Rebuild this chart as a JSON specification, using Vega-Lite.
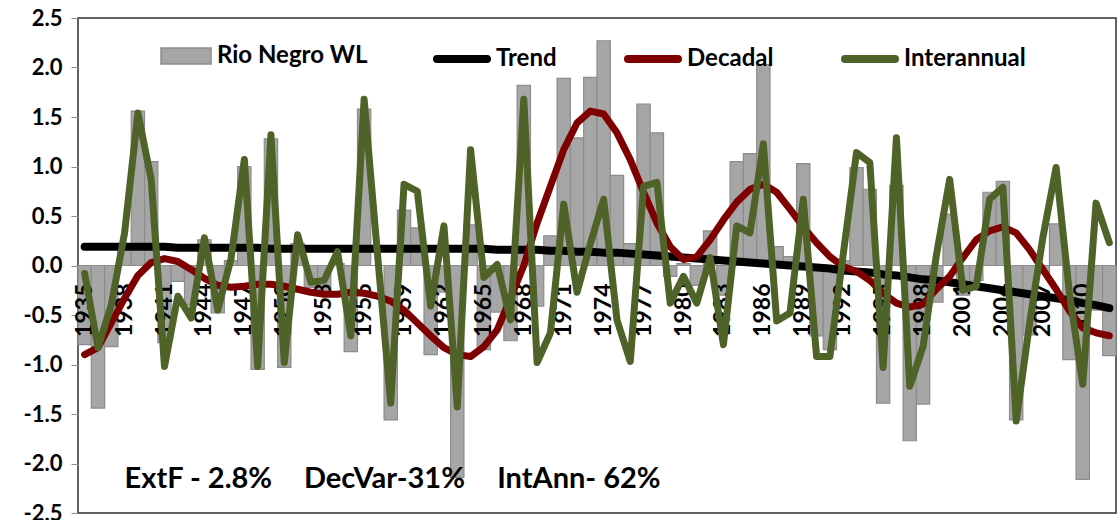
{
  "$schema": "https://vega.github.io/schema/vega-lite/v6.json",
  "width": 1038,
  "height": 495,
  "autosize": {"type": "none"},
  "padding": {"left": 78, "top": 18, "right": 2, "bottom": 7},
  "background": "#ffffff",
  "config": {
    "font": "Lato",
    "view": {"stroke": "#2e2e2e", "strokeWidth": 1.5},
    "axis": {"labelFont": "Lato", "labelFontWeight": "bold", "labelColor": "#000000", "grid": false, "title": null},
    "legend": {
      "orient": "none",
      "direction": "horizontal",
      "padding": 0,
      "symbolSize": 2500,
      "labelFont": "Lato",
      "labelFontWeight": "bold",
      "labelFontSize": 24,
      "labelColor": "#000000",
      "labelLimit": 400,
      "symbolOpacity": 1
    }
  },
  "data": {
    "values": [
      {"year": 1935, "wl": -0.80, "trend": 0.19, "dec": -0.90, "inter": -0.08},
      {"year": 1936, "wl": -1.44, "trend": 0.19, "dec": -0.83, "inter": -0.83},
      {"year": 1937, "wl": -0.82, "trend": 0.19, "dec": -0.58, "inter": -0.40},
      {"year": 1938, "wl": 0.18, "trend": 0.19, "dec": -0.33, "inter": 0.33},
      {"year": 1939, "wl": 1.56, "trend": 0.19, "dec": -0.10, "inter": 1.54},
      {"year": 1940, "wl": 1.05, "trend": 0.19, "dec": 0.03, "inter": 0.87},
      {"year": 1941, "wl": -0.78, "trend": 0.19, "dec": 0.07, "inter": -1.02},
      {"year": 1942, "wl": -0.16, "trend": 0.18, "dec": 0.04, "inter": -0.31},
      {"year": 1943, "wl": -0.40, "trend": 0.18, "dec": -0.04, "inter": -0.53},
      {"year": 1944, "wl": 0.26, "trend": 0.18, "dec": -0.13, "inter": 0.28},
      {"year": 1945, "wl": -0.48, "trend": 0.18, "dec": -0.20, "inter": -0.45},
      {"year": 1946, "wl": 0.05, "trend": 0.18, "dec": -0.22, "inter": 0.07},
      {"year": 1947, "wl": 1.00, "trend": 0.18, "dec": -0.21, "inter": 1.07},
      {"year": 1948, "wl": -1.05, "trend": 0.18, "dec": -0.19, "inter": -1.02},
      {"year": 1949, "wl": 1.28, "trend": 0.17, "dec": -0.19, "inter": 1.32},
      {"year": 1950, "wl": -1.03, "trend": 0.17, "dec": -0.21, "inter": -0.98},
      {"year": 1951, "wl": 0.22, "trend": 0.17, "dec": -0.24, "inter": 0.31},
      {"year": 1952, "wl": -0.22, "trend": 0.17, "dec": -0.27, "inter": -0.17},
      {"year": 1953, "wl": -0.25, "trend": 0.17, "dec": -0.29, "inter": -0.15},
      {"year": 1954, "wl": 0.02, "trend": 0.17, "dec": -0.29, "inter": 0.14},
      {"year": 1955, "wl": -0.87, "trend": 0.17, "dec": -0.27, "inter": -0.71},
      {"year": 1956, "wl": 1.58, "trend": 0.17, "dec": -0.28, "inter": 1.68},
      {"year": 1957, "wl": 0.00, "trend": 0.17, "dec": -0.31, "inter": 0.12},
      {"year": 1958, "wl": -1.56, "trend": 0.17, "dec": -0.36, "inter": -1.39},
      {"year": 1959, "wl": 0.56, "trend": 0.17, "dec": -0.45, "inter": 0.82},
      {"year": 1960, "wl": 0.38, "trend": 0.17, "dec": -0.58, "inter": 0.75},
      {"year": 1961, "wl": -0.90, "trend": 0.17, "dec": -0.71, "inter": -0.41},
      {"year": 1962, "wl": -0.27, "trend": 0.17, "dec": -0.83, "inter": 0.40},
      {"year": 1963, "wl": -2.14, "trend": 0.17, "dec": -0.90, "inter": -1.43},
      {"year": 1964, "wl": 0.41, "trend": 0.17, "dec": -0.92, "inter": 1.17},
      {"year": 1965, "wl": -0.85, "trend": 0.17, "dec": -0.82, "inter": -0.12},
      {"year": 1966, "wl": -0.47, "trend": 0.16, "dec": -0.65, "inter": 0.01},
      {"year": 1967, "wl": -0.76, "trend": 0.16, "dec": -0.33, "inter": -0.55},
      {"year": 1968, "wl": 1.82, "trend": 0.16, "dec": 0.00, "inter": 1.68},
      {"year": 1969, "wl": -0.41, "trend": 0.16, "dec": 0.43, "inter": -0.98},
      {"year": 1970, "wl": 0.30, "trend": 0.15, "dec": 0.80, "inter": -0.68},
      {"year": 1971, "wl": 1.89, "trend": 0.15, "dec": 1.17, "inter": 0.62},
      {"year": 1972, "wl": 1.29, "trend": 0.14, "dec": 1.44, "inter": -0.27},
      {"year": 1973, "wl": 1.90, "trend": 0.14, "dec": 1.56, "inter": 0.22},
      {"year": 1974, "wl": 2.27, "trend": 0.13, "dec": 1.53, "inter": 0.67},
      {"year": 1975, "wl": 0.91, "trend": 0.13, "dec": 1.34, "inter": -0.55},
      {"year": 1976, "wl": 0.22, "trend": 0.12, "dec": 1.07, "inter": -0.97},
      {"year": 1977, "wl": 1.63, "trend": 0.11, "dec": 0.74, "inter": 0.80},
      {"year": 1978, "wl": 1.34, "trend": 0.10, "dec": 0.43, "inter": 0.84},
      {"year": 1979, "wl": -0.11, "trend": 0.09, "dec": 0.19, "inter": -0.38},
      {"year": 1980, "wl": 0.02, "trend": 0.08, "dec": 0.06, "inter": -0.11},
      {"year": 1981, "wl": -0.20, "trend": 0.07, "dec": 0.09, "inter": -0.38},
      {"year": 1982, "wl": 0.35, "trend": 0.06, "dec": 0.26, "inter": 0.08},
      {"year": 1983, "wl": -0.30, "trend": 0.05, "dec": 0.46, "inter": -0.80},
      {"year": 1984, "wl": 1.05, "trend": 0.04, "dec": 0.64, "inter": 0.40},
      {"year": 1985, "wl": 1.13, "trend": 0.03, "dec": 0.77, "inter": 0.33},
      {"year": 1986, "wl": 2.03, "trend": 0.02, "dec": 0.82, "inter": 1.23},
      {"year": 1987, "wl": 0.19, "trend": 0.01, "dec": 0.74, "inter": -0.56},
      {"year": 1988, "wl": 0.09, "trend": 0.00, "dec": 0.57, "inter": -0.48},
      {"year": 1989, "wl": 1.03, "trend": -0.01, "dec": 0.39, "inter": 0.67},
      {"year": 1990, "wl": -0.71, "trend": -0.02, "dec": 0.23, "inter": -0.92},
      {"year": 1991, "wl": -0.85, "trend": -0.03, "dec": 0.09, "inter": -0.92},
      {"year": 1992, "wl": 0.05, "trend": -0.05, "dec": -0.01, "inter": 0.11},
      {"year": 1993, "wl": 0.99, "trend": -0.06, "dec": -0.06, "inter": 1.14},
      {"year": 1994, "wl": 0.77, "trend": -0.07, "dec": -0.15, "inter": 1.04},
      {"year": 1995, "wl": -1.39, "trend": -0.09, "dec": -0.28, "inter": -1.03},
      {"year": 1996, "wl": 0.81, "trend": -0.10, "dec": -0.38, "inter": 1.29},
      {"year": 1997, "wl": -1.77, "trend": -0.12, "dec": -0.42, "inter": -1.22},
      {"year": 1998, "wl": -1.40, "trend": -0.14, "dec": -0.39, "inter": -0.82},
      {"year": 1999, "wl": -0.37, "trend": -0.15, "dec": -0.24, "inter": 0.10},
      {"year": 2000, "wl": 0.52, "trend": -0.17, "dec": -0.11, "inter": 0.87},
      {"year": 2001, "wl": -0.30, "trend": -0.19, "dec": 0.08, "inter": -0.25},
      {"year": 2002, "wl": -0.15, "trend": -0.21, "dec": 0.26, "inter": -0.21},
      {"year": 2003, "wl": 0.74, "trend": -0.23, "dec": 0.35, "inter": 0.67},
      {"year": 2004, "wl": 0.85, "trend": -0.25, "dec": 0.39, "inter": 0.79},
      {"year": 2005, "wl": -1.56, "trend": -0.27, "dec": 0.33, "inter": -1.57},
      {"year": 2006, "wl": -0.70, "trend": -0.29, "dec": 0.16, "inter": -0.59},
      {"year": 2007, "wl": -0.08, "trend": -0.31, "dec": -0.04, "inter": 0.28},
      {"year": 2008, "wl": 0.42, "trend": -0.33, "dec": -0.24, "inter": 0.99},
      {"year": 2009, "wl": -0.95, "trend": -0.35, "dec": -0.46, "inter": -0.28},
      {"year": 2010, "wl": -2.16, "trend": -0.38, "dec": -0.63, "inter": -1.20},
      {"year": 2011, "wl": -0.45, "trend": -0.40, "dec": -0.68, "inter": 0.63},
      {"year": 2012, "wl": -0.91, "trend": -0.43, "dec": -0.71, "inter": 0.23}
    ]
  },
  "encoding": {
    "x": {
      "field": "year",
      "type": "ordinal",
      "scale": {"type": "band", "paddingInner": 0, "paddingOuter": 0},
      "axis": null
    }
  },
  "layer": [
    {
      "mark": {"type": "bar", "stroke": "#8c8c8c", "strokeWidth": 1.2},
      "encoding": {
        "y": {
          "field": "wl",
          "type": "quantitative",
          "scale": {"domain": [-2.5, 2.5], "nice": false, "zero": false},
          "axis": {
            "values": [-2.5, -2.0, -1.5, -1.0, -0.5, 0.0, 0.5, 1.0, 1.5, 2.0, 2.5],
            "format": ".1f",
            "labelExpr": "replace(datum.label, '\u2212', '-')",
            "labelFontSize": 22,
            "labelPadding": 9,
            "tickSize": 7,
            "tickColor": "#8c8c8c",
            "domain": false
          }
        },
        "fill": {
          "datum": "Rio Negro WL",
          "scale": {"domain": ["Rio Negro WL"], "range": ["#a6a6a6"]},
          "legend": {
            "legendX": 82,
            "legendY": 12,
            "title": null,
            "symbolType": "M-1,-0.32H1V0.32H-1Z",
            "symbolStrokeColor": "#8c8c8c",
            "symbolStrokeWidth": 1.5,
            "labelOffset": 5
          }
        }
      }
    },
    {
      "transform": [
        {"filter": {"field": "year", "oneOf": [1935, 1938, 1941, 1944, 1947, 1950, 1953, 1956, 1959, 1962, 1965, 1968, 1971, 1974, 1977, 1980, 1983, 1986, 1989, 1992, 1995, 1998, 2001, 2004, 2007, 2010]}}
      ],
      "mark": {"type": "text", "angle": 270, "align": "right", "baseline": "middle", "dx": -18, "font": "Lato", "fontWeight": "bold", "fontSize": 23, "color": "#000000"},
      "encoding": {
        "y": {"datum": 0, "type": "quantitative"},
        "text": {"field": "year", "type": "nominal"}
      }
    },
    {
      "mark": {"type": "line", "strokeWidth": 8, "strokeCap": "round", "strokeJoin": "round"},
      "encoding": {
        "y": {"field": "trend", "type": "quantitative"},
        "stroke": {
          "datum": "Trend",
          "scale": {"domain": ["Trend", "Decadal", "Interannual"], "range": ["#000000", "#7f0000", "#4f6228"]},
          "legend": {
            "legendX": 355,
            "legendY": 12,
            "title": null,
            "symbolType": "stroke",
            "symbolStrokeWidth": 8,
            "labelOffset": 5,
            "columnPadding": 55,
            "encode": {"symbols": {"update": {"strokeCap": {"value": "round"}}}}
          }
        }
      }
    },
    {
      "mark": {"type": "line", "strokeWidth": 7, "strokeCap": "round", "strokeJoin": "round"},
      "encoding": {
        "y": {"field": "dec", "type": "quantitative"},
        "stroke": {"datum": "Decadal"}
      }
    },
    {
      "mark": {"type": "line", "strokeWidth": 7, "strokeCap": "round", "strokeJoin": "round"},
      "encoding": {
        "y": {"field": "inter", "type": "quantitative"},
        "stroke": {"datum": "Interannual"}
      }
    },
    {
      "data": {
        "values": [
          {"year": 1938, "v": -2.16, "note": "ExtF - 2.8%"},
          {"year": 1966, "v": -2.16, "note": "IntAnn- 62%"}
        ]
      },
      "mark": {"type": "text", "align": "left", "baseline": "middle", "font": "Lato", "fontWeight": "bold", "fontSize": 29, "color": "#000000"},
      "encoding": {
        "y": {"field": "v", "type": "quantitative"},
        "text": {"field": "note"}
      }
    },
    {
      "data": {
        "values": [
          {"year": 1952, "v": -2.16, "note": "DecVar-31%"}
        ]
      },
      "mark": {"type": "text", "align": "left", "baseline": "middle", "dx": -7, "font": "Lato", "fontWeight": "bold", "fontSize": 29, "color": "#000000"},
      "encoding": {
        "y": {"field": "v", "type": "quantitative"},
        "text": {"field": "note"}
      }
    }
  ]
}
